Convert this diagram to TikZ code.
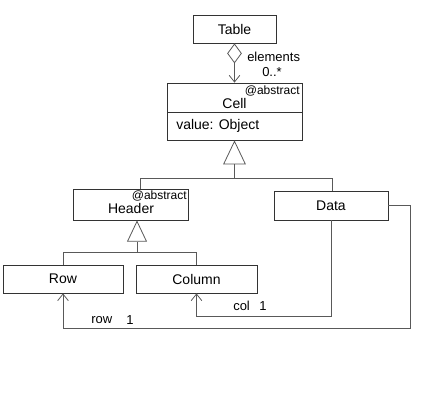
\documentclass[tikz,border=0pt]{standalone}
\usepackage{fontspec}
\setmainfont{Liberation Sans}
\usetikzlibrary{arrows.meta}
\begin{document}
\begin{tikzpicture}[x=0.75pt,y=-0.75pt,
  box/.style={draw=black!80, line width=0.6pt, rectangle, inner sep=0pt, font=\fontsize{10.5}{12}\selectfont},
  lbl/.style={inner sep=0pt, font=\fontsize{9.75}{11}\selectfont},
  abs/.style={inner sep=0pt, font=\fontsize{9}{10}\selectfont, anchor=north east},
  conn/.style={draw=black!65, line width=0.6pt},
  gentip/.style={conn, -{Triangle[open, length=18pt, width=17pt]}},
  gentipb/.style={conn, -{Triangle[open, length=16pt, width=15pt]}},
  navtip/.style={conn, -{Straight Barb[length=5pt, width=8pt]}}
]
\useasboundingbox (0,0) rectangle (422,400);

% classes
\node[box, minimum width=62.25pt, minimum height=21pt] (table) at (234.5,29) {Table};
\node[box, minimum width=101.25pt, minimum height=42.75pt] (cell) at (234.5,111.5) {};
\draw[box] (167,112) -- (302,112);
\node[abs] (cellabs) at (300,86) {@abstract};
\node[inner sep=0pt, font=\fontsize{10.5}{12}\selectfont] (celln) at (234.5,103) {Cell};
\node[inner sep=0pt, anchor=west, font=\fontsize{10.5}{12}\selectfont] (cellattr) at (176,126) {value: Object};

\node[box, minimum width=86.25pt, minimum height=23.25pt] (header) at (131,204.5) {};
\node[abs] (headabs) at (187,191) {@abstract};
\node[inner sep=0pt, font=\fontsize{10.5}{12}\selectfont] (headn) at (131,208) {Header};

\node[box, minimum width=85.5pt, minimum height=21.75pt] (data) at (331,205.5) {Data};
\node[box, minimum width=90pt, minimum height=21pt] (row) at (63,279) {Row};
\node[box, minimum width=90.75pt, minimum height=21pt] (column) at (196.5,279) {Column};

% aggregation Table -> Cell
\draw[conn, {Diamond[open, length=15pt, width=11pt]}-{Straight Barb[length=5pt, width=8pt]}] (table.south) -- (cell.north);
\node[lbl, anchor=west] (elem) at (247,57) {elements};
\node[lbl, anchor=west] (mult) at (262,72) {0..*};

% generalization Header, Data -> Cell
\coordinate (cj) at (234.5,178);
\coordinate (hj) at (140,178);
\coordinate (dj) at (332,178);
\draw[conn] (hj |- header.north) -- (hj) -- (dj) -- (dj |- data.north);
\draw[gentip] (cj) -- (cell.south);

% generalization Row, Column -> Header
\coordinate (rj) at (137,252);
\coordinate (rl) at (63,252);
\coordinate (rr) at (196.5,252);
\draw[conn] (rl |- row.north) -- (rl) -- (rr) -- (rr |- column.north);
\draw[gentipb] (rj) -- (rj |- header.south);

% Data -> Column (col 1)
\coordinate (c1) at (331,316);
\coordinate (c2) at (196.5,316);
\draw[navtip] (data.south) -- (c1) -- (c2) -- (column.south);
\node[lbl, anchor=west] (coll) at (233,306) {col};
\node[lbl, anchor=west] (colm) at (259,306) {1};

% Data -> Row (row 1)
\coordinate (r1) at (410,205.5);
\coordinate (r2) at (410,328);
\coordinate (r3) at (63,328);
\draw[navtip] (data.east) -- (r1) -- (r2) -- (r3) -- (row.south);
\node[lbl, anchor=west] (rowl) at (91,320) {row};
\node[lbl, anchor=west] (rowm) at (126,320) {1};
\end{tikzpicture}
\end{document}
